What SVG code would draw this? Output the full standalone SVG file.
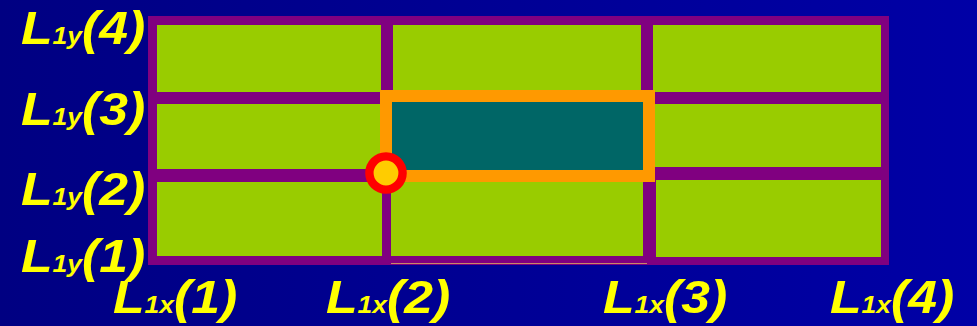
<svg xmlns="http://www.w3.org/2000/svg" width="977" height="326" viewBox="0 0 977 326">
  <defs>
    <linearGradient id="bg" x1="0" y1="0" x2="1" y2="0">
      <stop offset="0" stop-color="#000082"/>
      <stop offset="1" stop-color="#0000A6"/>
    </linearGradient>
  </defs>
  <style>
    .cell { fill: #99CC00; }
    .lbl { font-family: "Liberation Sans", Arial, sans-serif; font-weight: bold; font-style: italic; font-size: 47px; fill: #FFFF00; }
    .sub { font-size: 24px; }
  </style>
  <rect x="0" y="0" width="977" height="326" fill="url(#bg)"/>

  <g id="grid">
    <rect x="148" y="16" width="741" height="249" fill="#800080"/>
    <line x1="391" y1="263.5" x2="647" y2="263.5" stroke="#C88868" stroke-width="1"/>
    <rect class="cell" x="157" y="25" width="224" height="67"/>
    <rect class="cell" x="393" y="25" width="248" height="67"/>
    <rect class="cell" x="653" y="25" width="228" height="67"/>
    <rect class="cell" x="157" y="104" width="224" height="65"/>
    <rect class="cell" x="653" y="104" width="228" height="63"/>
    <rect class="cell" x="157" y="182" width="225" height="74"/>
    <rect class="cell" x="391" y="182" width="252" height="74"/>
    <rect class="cell" x="656" y="180" width="225" height="77"/>
  </g>

  <g id="selected-cell">
    <rect x="386" y="96" width="263" height="80" fill="#006666" stroke="#FF9900" stroke-width="12"/>
  </g>

  <g id="point">
    <circle cx="386" cy="173" r="16.6" fill="#FFCC00" stroke="#FF0000" stroke-width="8.4"/>
  </g>

  <g id="y-labels">
    <text class="lbl" transform="translate(21,43.5) scale(1.1,1)">L<tspan class="sub">1y</tspan>(4)</text>
    <text class="lbl" transform="translate(21,125) scale(1.1,1)">L<tspan class="sub">1y</tspan>(3)</text>
    <text class="lbl" transform="translate(21,205) scale(1.1,1)">L<tspan class="sub">1y</tspan>(2)</text>
    <text class="lbl" transform="translate(21,272) scale(1.1,1)">L<tspan class="sub">1y</tspan>(1)</text>
  </g>

  <g id="x-labels">
    <text class="lbl" transform="translate(113,313) scale(1.1,1)">L<tspan class="sub">1x</tspan>(1)</text>
    <text class="lbl" transform="translate(326,313) scale(1.1,1)">L<tspan class="sub">1x</tspan>(2)</text>
    <text class="lbl" transform="translate(603,313) scale(1.1,1)">L<tspan class="sub">1x</tspan>(3)</text>
    <text class="lbl" transform="translate(830,313) scale(1.1,1)">L<tspan class="sub">1x</tspan>(4)</text>
  </g>
</svg>
